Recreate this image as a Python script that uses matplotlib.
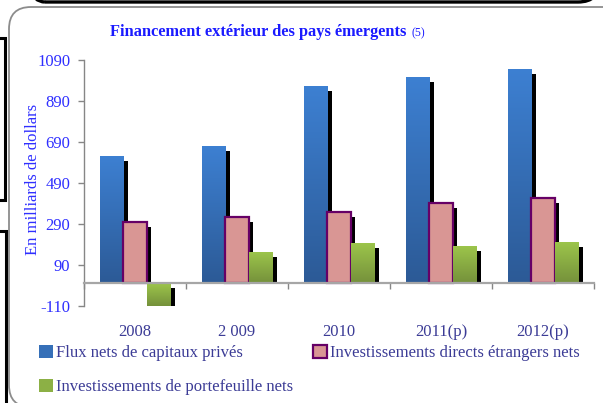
import numpy as np
import matplotlib
matplotlib.use("Agg")
import matplotlib.pyplot as plt
from matplotlib.colors import LinearSegmentedColormap
from matplotlib.patches import FancyBboxPatch, Rectangle
from matplotlib.transforms import IdentityTransform

# ---- data ----
categories = ["2008", "2 009", "2010", "2011(p)", "2012(p)"]
flux_prives = [622, 671, 963, 1007, 1046]
ide_nets = [298, 323, 350, 391, 416]
portefeuille = [-110, 154, 198, 183, 202]
series_names = ["Flux nets de capitaux privés",
                "Investissements directs étrangers nets",
                "Investissements de portefeuille nets"]
yticks = [-110, 90, 290, 490, 690, 890, 1090]

plt.rcParams['font.family'] = ['Liberation Serif', 'DejaVu Serif']

W, H = 603, 403
FS = 12
fig = plt.figure(figsize=(W / 100, H / 100), dpi=100)
ax = fig.add_axes([84 / W, 1 - 306 / H, 510 / W, 246 / H])

x = np.arange(len(categories))
bw = 0.232
offsets = [-bw, 0, bw]
ylim = (-110, 1090)
px_per_unit = 246 / (ylim[1] - ylim[0])
dx = 4.5 / 102          # shadow offset (data x units)
dy = 5 / px_per_unit    # shadow offset (data y units)

blue_cmap = LinearSegmentedColormap.from_list("b", ["#2c5a96", "#3d80d2"])
green_cmap = LinearSegmentedColormap.from_list("g", ["#75913b", "#9dc64b"])


def shadows(xpos, vals, z):
    vals = np.asarray(vals, float)
    bottoms = np.where(vals > 0, 0, -dy)
    heights = np.where(vals > 0, vals - dy, vals)
    ax.bar(xpos + dx, heights, bw, bottom=bottoms, color="black",
           linewidth=0, zorder=z)


def gradient(bars, cmap, z):
    grad = np.linspace(0, 1, 128).reshape(-1, 1)
    for b in bars:
        x0, y0 = b.get_xy()
        w, h = b.get_width(), b.get_height()
        lo, hi = min(y0, y0 + h), max(y0, y0 + h)
        im = ax.imshow(grad, extent=(x0, x0 + w, lo, hi), origin="lower",
                       cmap=cmap, aspect="auto", zorder=z,
                       interpolation="bilinear")
        im.set_clip_path(b)
        b.set_facecolor("none")


# blue
shadows(x + offsets[0], flux_prives, 1)
b1 = ax.bar(x + offsets[0], flux_prives, bw, color="#3670b8", linewidth=0,
            zorder=2, label=series_names[0])
gradient(b1, blue_cmap, 2)
# pink
shadows(x + offsets[1], ide_nets, 3)
b2 = ax.bar(x + offsets[1], ide_nets, bw, color="#d99694", edgecolor="#660066",
            linewidth=1.6, zorder=4, label=series_names[1])
# green
shadows(x + offsets[2], portefeuille, 5)
b3 = ax.bar(x + offsets[2], portefeuille, bw, color="#8cb045", linewidth=0,
            zorder=6, label=series_names[2])
gradient(b3, green_cmap, 6)

ax.set_xlim(-0.5, len(categories) - 0.5)
ax.set_ylim(*ylim)
ax.set_yticks(yticks)
ax.set_yticklabels([str(v) for v in yticks], color="#2f2fff", fontsize=FS)
ax.tick_params(axis="y", length=4, width=1, color="#868686", pad=6)

ax.set_xticks(np.arange(-0.5, len(categories)))
ax.set_xticklabels([])
ax.tick_params(axis="x", length=4, width=1, color="#868686", direction="out")

for s in ["top", "right"]:
    ax.spines[s].set_visible(False)
ax.spines["left"].set_color("#868686")
ax.spines["left"].set_linewidth(1)
ax.spines["bottom"].set_position(("data", 0))
ax.spines["bottom"].set_color("#a6a6a6")
ax.spines["bottom"].set_linewidth(1.6)
ax.spines["bottom"].set_zorder(7)

for xi, cat in zip(x, categories):
    ax.text(xi, -(332 - 306) / 246, cat, transform=ax.get_xaxis_transform(),
            ha="center", va="center", color="#3c3c96", fontsize=FS)

ax.set_ylabel("En milliards de dollars", color="#2f2fff", fontsize=FS)
ax.yaxis.set_label_coords((41 - 84) / 510, (306 - 179) / 246)

# title
fig.text(110 / W, 1 - 32 / H, "Financement extérieur des pays émergents",
         fontsize=11.8, fontweight="bold", color="#1a1aff", ha="left", va="center")
fig.text(412 / W, 1 - 33 / H, "(5)", fontsize=8.5, color="#1a1aff",
         ha="left", va="center")

# legend
leg = fig.legend([b1, b3, b2],
                 [series_names[0], series_names[2], series_names[1]],
                 ncol=2, loc="upper left",
                 bbox_to_anchor=(39 / W, 1 - 345 / H),
                 frameon=False, fontsize=FS, labelcolor="#3c3c96",
                 handlelength=0.85, handleheight=0.85, handletextpad=0.18,
                 columnspacing=1.2, labelspacing=1.05, borderpad=0,
                 borderaxespad=0)
leg.legend_handles[0].set_facecolor("#3670b8")
leg.legend_handles[1].set_facecolor("#8cb045")

# decorative frames
ident = IdentityTransform()
frame = FancyBboxPatch((9, -4), 640, 400,
                       boxstyle="round,pad=0,rounding_size=22",
                       transform=ident, facecolor="none",
                       edgecolor="#8c8c8c", linewidth=1.3)
fig.add_artist(frame)
topbox = FancyBboxPatch((23, H - 2), 577, 80,
                        boxstyle="round,pad=0,rounding_size=22",
                        transform=ident, facecolor="none",
                        edgecolor="black", linewidth=2.4)
fig.add_artist(topbox)
fig.add_artist(Rectangle((-30, H - 200), 34.5, 162, transform=ident,
                         facecolor="none", edgecolor="black", linewidth=2.2))
fig.add_artist(Rectangle((-30, -30), 35.5, H - 231 + 30, transform=ident,
                         facecolor="none", edgecolor="black", linewidth=2.2))

fig.savefig("out.png", dpi=100)
